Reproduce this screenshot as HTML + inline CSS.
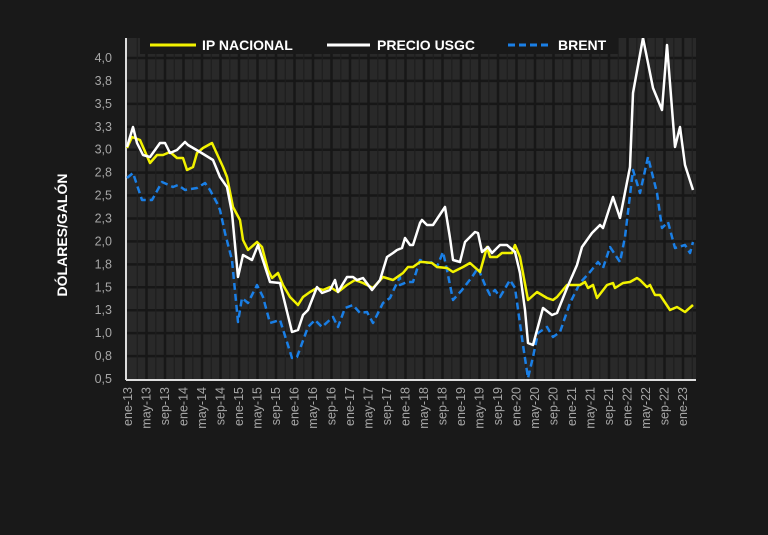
<!DOCTYPE html>
<html><head><meta charset="utf-8"><style>
html,body{margin:0;padding:0;background:#191919;}
svg{display:block;font-family:"Liberation Sans",sans-serif;}
</style></head><body>
<svg width="768" height="535" viewBox="0 0 768 535" xmlns="http://www.w3.org/2000/svg">
<rect width="768" height="535" fill="#191919"/>
<rect x="126" y="38" width="570" height="342" fill="#292929"/>
<g id="grid" stroke="#171717" stroke-width="2"></g>
<g id="lbl" fill="#a6a6a6" font-size="12.5"></g>
<text transform="translate(67,235) rotate(-90)" text-anchor="middle" fill="#fff" font-weight="bold" font-size="14">DÓLARES/GALÓN</text>
<line x1="126" y1="38" x2="126" y2="380" stroke="#ddd" stroke-width="2"/>
<line x1="126" y1="380" x2="696" y2="380" stroke="#ddd" stroke-width="2"/>
<defs><clipPath id="c"><rect x="126" y="38" width="570" height="342"/></clipPath></defs>
<g clip-path="url(#c)" fill="none" stroke-width="2.5" stroke-linejoin="round">
<polyline stroke="#1a7fe6" stroke-dasharray="7,4" points="127,178 133,173 142,200 152,200 162,182 173,187 178,185 185,190 197,188 205,183 210,190 217,203 220,210 225,233 232,260 238,322 242,298 248,303 257,285 263,297 270,323 280,320 292,358 297,357 308,327 315,320 322,327 333,317 338,327 345,308 353,305 360,313 367,312 373,323 383,303 390,298 395,287 400,277 400,285 407,282 413,282 420,260 427,263 433,262 437,267 443,252 447,270 453,300 462,290 472,277 478,268 485,285 490,295 495,290 500,297 510,280 515,288 523,345 528,378 533,357 538,333 547,327 553,337 560,332 570,303 580,283 590,272 598,262 603,268 610,247 620,262 625,237 633,170 640,193 648,157 657,193 662,228 668,222 675,248 685,245 690,253 693,242"/>
<polyline stroke="#f2f200" points="127,148 132,137 140,140 150,163 157,155 163,155 170,152 177,158 183,158 187,170 193,167 197,153 203,148 212,143 223,167 227,177 233,207 240,220 243,240 248,250 257,242 262,247 268,270 272,278 278,273 283,285 290,297 298,305 303,297 310,292 317,288 323,290 330,287 338,292 347,285 355,280 363,283 373,288 383,277 393,280 403,273 408,267 413,267 420,262 423,262 432,263 437,267 447,268 453,272 463,267 470,263 480,272 487,247 490,257 497,257 502,253 512,253 515,245 520,257 528,300 537,292 547,298 553,300 557,297 567,285 580,285 585,282 588,288 593,285 597,298 607,285 613,283 615,288 623,283 630,282 637,278 640,280 647,287 650,285 655,295 660,295 670,310 677,307 685,312 693,305"/>
<polyline stroke="#ffffff" points="127,147 133,127 137,143 143,155 150,157 160,143 165,143 170,153 177,150 185,142 188,145 200,152 213,160 220,177 227,187 232,213 238,277 243,255 252,260 258,245 270,282 280,283 292,332 298,330 303,315 308,310 317,287 322,293 330,290 335,280 338,292 347,277 353,277 357,280 363,278 372,290 380,280 387,257 393,253 397,250 402,248 405,238 410,245 413,245 420,223 422,220 427,225 433,225 445,207 450,238 453,260 460,262 465,242 475,232 478,233 482,252 488,247 492,253 500,245 507,245 515,252 520,273 525,310 528,343 533,345 543,308 552,315 557,313 567,288 577,265 582,247 592,233 600,225 603,228 613,197 620,218 630,167 633,93 643,38 653,88 662,110 667,45 675,147 680,127 685,165 693,190"/>
</g>
<rect x="140" y="34" width="478" height="20" fill="#191919"/>
<g font-size="14" font-weight="bold" fill="#fff">
<line x1="150" y1="45" x2="196" y2="45" stroke="#f2f200" stroke-width="3"/>
<text x="202" y="50">IP NACIONAL</text>
<line x1="327" y1="45" x2="370" y2="45" stroke="#fff" stroke-width="3"/>
<text x="377" y="50">PRECIO USGC</text>
<line x1="508" y1="45" x2="552" y2="45" stroke="#1a7fe6" stroke-width="3" stroke-dasharray="7,4"/>
<text x="558" y="50">BRENT</text>
</g>
<script>
var g=document.getElementById('grid'),l=document.getElementById('lbl'),ns='http://www.w3.org/2000/svg';
function el(p,t,a,tx){var e=document.createElementNS(ns,t);for(var k in a)e.setAttribute(k,a[k]);if(tx)e.textContent=tx;p.appendChild(e);}
var yl=['0,5','0,8','1,0','1,3','1,5','1,8','2,0','2,3','2,5','2,8','3,0','3,3','3,5','3,8','4,0'];
for(var i=0;i<15;i++){var y=379-i*22.93;if(i>0)el(g,'line',{x1:126,x2:696,y1:y,y2:y,'stroke-width':2.5});el(l,'text',{x:112,y:y+4,'text-anchor':'end'},yl[i]);}
for(var m=2;m<124;m+=2){var x=128+m*4.625;el(g,'line',{x1:x,x2:x,y1:38,y2:380,'stroke-width':m%4?1.2:2.5,stroke:m%4?'#1e1e1e':'#171717'});}
var mn=['ene','may','sep'];
for(var i=0;i<31;i++){var x=128+i*4*4.625+4;var t=mn[i%3]+'-'+(13+Math.floor(i/3));el(l,'text',{transform:'translate('+x+',387) rotate(-90)','text-anchor':'end'},t);}
</script>
</svg>
</body></html>
